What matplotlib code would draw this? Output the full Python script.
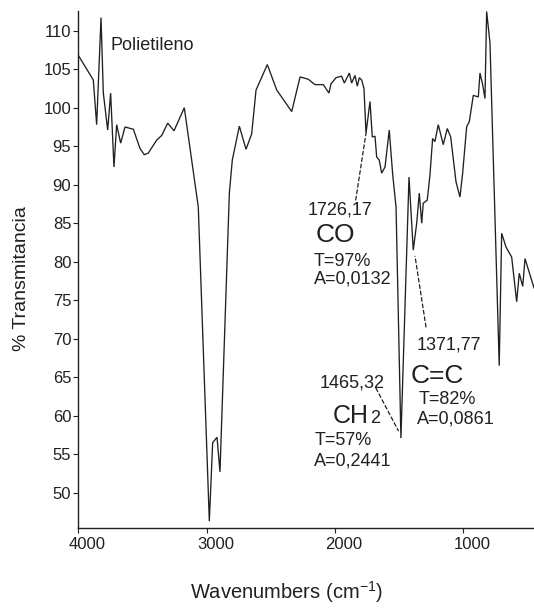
import matplotlib
matplotlib.use('Agg')
import matplotlib.pyplot as plt
import matplotlib.transforms as mtransforms

plt.rcParams['font.family'] = ['Liberation Sans', 'DejaVu Sans']
plt.rcParams['mathtext.fontset'] = 'custom'
plt.rcParams['mathtext.rm'] = 'Liberation Sans'
plt.rcParams['mathtext.it'] = 'Liberation Sans:italic'

# ---------------- data ----------------
wavenumber = [4000, 3883, 3857, 3823, 3805, 3771, 3748, 3722, 3701, 3670,
              3636, 3571, 3519, 3486, 3455, 3389, 3350, 3303, 3254, 3174,
              3065, 2979, 2953, 2919, 2896, 2823, 2800, 2745, 2693, 2649,
              2615, 2527, 2454, 2337, 2272, 2208, 2156, 2091, 2047, 2031,
              1992, 1948, 1927, 1888, 1870, 1844, 1826, 1810, 1792, 1774,
              1758, 1727, 1709, 1688, 1675, 1655, 1636, 1610, 1577, 1550,
              1524, 1486, 1423, 1390, 1363, 1343, 1324, 1312, 1281, 1260,
              1239, 1221, 1195, 1156, 1125, 1098, 1057, 1026, 1005, 974,
              953, 922, 883, 870, 849, 831, 818, 792, 720, 701,
              667, 623, 584, 564, 537, 519, 449]
transmittance = [106.8, 103.6, 97.8, 111.7, 101.9, 97.1, 101.9, 92.3, 97.8, 95.4,
                 97.5, 97.2, 94.7, 93.9, 94.1, 95.8, 96.4, 98.0, 97.0, 100.0,
                 87.1, 46.3, 56.5, 57.2, 52.7, 88.9, 93.2, 97.6, 94.6, 96.6,
                 102.3, 105.6, 102.3, 99.5, 104.0, 103.7, 103.0, 103.0, 101.9, 103.1,
                 103.9, 104.1, 103.2, 104.5, 103.2, 104.2, 102.8, 103.9, 103.6, 102.5,
                 96.7, 100.8, 96.2, 96.3, 93.6, 93.2, 91.5, 92.3, 97.1, 91.3,
                 87.1, 57.1, 91.0, 81.5, 85.0, 88.9, 85.0, 87.6, 88.0, 91.2,
                 96.0, 95.6, 97.8, 95.2, 97.3, 96.2, 90.4, 88.4, 91.5, 97.5,
                 98.2, 101.6, 101.4, 104.5, 103.0, 101.2, 112.5, 108.4, 66.5, 83.7,
                 81.9, 80.6, 74.8, 78.5, 76.8, 80.4, 76.6]

x_ticks = [4000, 3000, 2000, 1000]
y_ticks = list(range(50, 111, 5))

sample_name = "Polietileno"
x_label = "Wavenumbers (cm$^{\\mathrm{-1}}$)"
y_label = "% Transmitancia"

# annotation groups: (wavenumber label, group name, T text, A text)
co_texts = ["1726,17", "CO", "T=97%", "A=0,0132"]
cc_texts = ["1371,77", "C=C", "T=82%", "A=0,0861"]
ch2_texts = ["1465,32", "CH", "2", "T=57%", "A=0,2441"]

# ---------------- figure ----------------
W, H = 534, 608
INK = '#231f20'
fig = plt.figure(figsize=(W / 100, H / 100), dpi=100)


def F(x, y):
    return (x / W, 1 - y / H)


ax_left = 78.3 / W
ax_bottom = (H - 528.3) / H
ax_top = (H - 11) / H
ax = fig.add_axes([ax_left, ax_bottom, 1 - ax_left, ax_top - ax_bottom])

ax.plot(wavenumber, transmittance, color=INK, lw=0.95, solid_joinstyle='miter')
ax.set_xlim(4000, 449)
ax.set_ylim(45.38, 112.56)

for s in ['top', 'right']:
    ax.spines[s].set_visible(False)
for s in ['left', 'bottom']:
    ax.spines[s].set_linewidth(1.0)
    ax.spines[s].set_color(INK)

ax.set_xticks(x_ticks)
ax.set_yticks(y_ticks)
ax.tick_params(axis='both', direction='out', length=3.5, width=0.8, color=INK,
               labelsize=12, labelcolor=INK)
ax.tick_params(axis='x', pad=2.5)
ax.tick_params(axis='y', pad=1.5)

offset = mtransforms.ScaledTranslation(0.09, 0, fig.dpi_scale_trans)
for lab in ax.get_xticklabels():
    lab.set_transform(lab.get_transform() + offset)

# axis labels
fig.text(*F(287, 599), x_label, ha='center', va='baseline', fontsize=14.5, color=INK)
fig.text(*F(22, 279), y_label, ha='center', va='center', rotation=90,
         fontsize=14, color=INK)

# sample name
fig.text(*F(110.7, 50), sample_name, ha='left', va='baseline', fontsize=13, color=INK)

small = 13
big = 19

# CO group
fig.text(*F(340, 214.6), co_texts[0], ha='center', va='baseline', fontsize=small, color=INK)
fig.text(*F(335.5, 242.3), co_texts[1], ha='center', va='baseline', fontsize=big, color=INK)
fig.text(*F(314, 266), co_texts[2], ha='left', va='baseline', fontsize=small, color=INK)
fig.text(*F(314, 283.5), co_texts[3], ha='left', va='baseline', fontsize=small, color=INK)

# C=C group
fig.text(*F(449, 349.6), cc_texts[0], ha='center', va='baseline', fontsize=small, color=INK)
fig.text(*F(437, 383), cc_texts[1], ha='center', va='baseline', fontsize=big, color=INK)
fig.text(*F(418.3, 404.5), cc_texts[2], ha='left', va='baseline', fontsize=small, color=INK)
fig.text(*F(416.7, 423.5), cc_texts[3], ha='left', va='baseline', fontsize=small, color=INK)

# CH2 group
fig.text(*F(352, 388), ch2_texts[0], ha='center', va='baseline', fontsize=small, color=INK)
fig.text(*F(332.7, 423), ch2_texts[1], ha='left', va='baseline', fontsize=18, color=INK)
fig.text(*F(370.5, 423), ch2_texts[2], ha='left', va='baseline', fontsize=small, color=INK)
fig.text(*F(314.3, 445), ch2_texts[3], ha='left', va='baseline', fontsize=small, color=INK)
fig.text(*F(314.3, 465), ch2_texts[4], ha='left', va='baseline', fontsize=small, color=INK)

# dashed leader lines (peak point -> label)
dash = dict(arrowstyle='-', color=INK, lw=0.9, linestyle=(0, (3, 2.2)),
            shrinkA=0, shrinkB=0)
ax.annotate('', xy=(1758, 96.7), xytext=F(355.7, 200), textcoords='figure fraction',
            arrowprops=dash)
ax.annotate('', xy=(1376, 80.7), xytext=F(426, 327), textcoords='figure fraction',
            arrowprops=dash)
ax.annotate('', xy=(1506, 58.05), xytext=F(376, 388.3), textcoords='figure fraction',
            arrowprops=dash)

fig.savefig('out.png', dpi=100)
